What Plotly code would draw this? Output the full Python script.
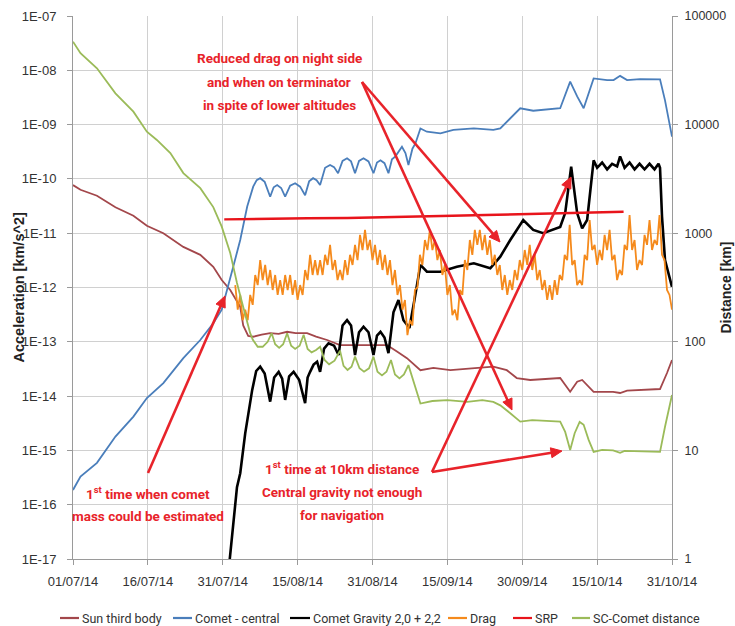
import math
import plotly.graph_objects as go

# ---------------- data (x = days since 01/07/14, ticks every 15 units) ----------------
tick_pos = [0, 15, 30, 45, 60, 75, 90, 105, 120]
tick_dates = ["01/07/14", "16/07/14", "31/07/14", "15/08/14", "31/08/14",
              "15/09/14", "30/09/14", "15/10/14", "31/10/14"]

acc_ticks = [1e-17, 1e-16, 1e-15, 1e-14, 1e-13, 1e-12, 1e-11, 1e-10, 1e-09, 1e-08, 1e-07]
acc_labels = ["1E-17", "1E-16", "1E-15", "1E-14", "1E-13", "1E-12", "1E-11", "1E-10", "1E-09", "1E-08", "1E-07"]
dist_ticks = [1, 10, 100, 1000, 10000, 100000]
dist_labels = ["1", "10", "100", "1000", "10000", "100000"]

sun_day = [0, 1.5, 4.8, 8.5, 12.1, 14.8, 18.1, 22.1, 25.5, 28.1, 29.8, 31.5, 33.5, 34.1, 35.1,
           36.1, 37.8, 39.5, 41.2, 42.9, 44.6, 46.9, 48.7, 50.9, 53.5, 57, 60.2, 62.9, 64.9,
           66.9, 69.6, 72.2, 75.6, 80.2, 84.2, 86.9, 88.9, 91.6, 97.6, 99.6, 101, 102, 104.3,
           108.2, 109.6, 111, 117.6, 119, 120]
sun_val = [7.7e-11, 6.3e-11, 4.9e-11, 3.0e-11, 2.1e-11, 1.37e-11, 1.0e-11, 5.6e-12, 4.0e-12,
           2.4e-12, 1.37e-12, 9.0e-13, 4.4e-13, 2.0e-13, 1.28e-13, 1.24e-13, 1.35e-13, 1.45e-13,
           1.40e-13, 1.53e-13, 1.45e-13, 1.45e-13, 1.25e-13, 1.08e-13, 8.7e-14, 8.7e-14, 8.7e-14,
           8.7e-14, 6.6e-14, 5.0e-14, 3.0e-14, 3.3e-14, 3.0e-14, 3.3e-14, 3.5e-14, 3.0e-14,
           2.15e-14, 1.98e-14, 2.15e-14, 1.2e-14, 1.84e-14, 1.98e-14, 1.2e-14, 1.2e-14, 1.14e-14,
           1.26e-14, 1.35e-14, 2.66e-14, 4.6e-14]

central_day = [0, 1.5, 4.8, 8.5, 12.1, 14.8, 18.1, 22.1, 25.5, 28.1, 29.8, 30.8, 32.1, 33.5,
               34.9, 36.1, 36.8, 37.5, 38.4, 39.5, 40.2, 40.9, 41.7, 42.5, 43.5, 44.5, 45.5, 46.5,
               47.3, 48.1, 48.8, 49.5, 50.5, 51.5, 52.3, 53.1, 54.0, 54.9, 55.7, 56.5, 57.3, 58.2,
               59.2, 60.2, 60.9, 61.6, 62.4, 63.2, 63.9, 64.6, 65.3, 65.9, 66.6, 67.2, 68.0, 68.6,
               69.6, 70.9, 73.6, 76.2, 80.3, 84.2, 85.6, 87.6, 89.6, 92.2, 97.6, 99.6, 101, 102.3,
               104.3, 107, 108.3, 109.6, 111, 113.6, 117.6, 118.6, 120]
central_val = [1.87e-16, 3.3e-16, 5.9e-16, 1.8e-15, 4.2e-15, 9.2e-15, 1.74e-14, 5.0e-14, 1.08e-13,
               2.2e-13, 3.9e-13, 9.0e-13, 2.4e-12, 7.5e-12,
               3.1e-11, 7.2e-11, 9.5e-11, 1.03e-10, 8.8e-11, 4.7e-11, 7.0e-11, 7.7e-11, 6.8e-11, 4.7e-11,
               7.5e-11, 8.3e-11, 7.2e-11, 5.0e-11, 9.0e-11, 1.03e-10, 9.5e-11, 7.7e-11, 1.6e-10, 1.8e-10,
               1.65e-10, 1.27e-10, 2.15e-10, 2.4e-10, 2.1e-10, 1.27e-10, 2.15e-10, 2.4e-10, 2.1e-10,
               1.27e-10, 2.0e-10, 2.2e-10, 1.95e-10, 1.27e-10, 2.3e-10, 2.6e-10, 3.3e-10, 3.9e-10,
               3.0e-10, 1.8e-10, 3.6e-10, 4.5e-10,
               8.5e-10, 7.4e-10, 6.9e-10, 8.0e-10, 8.5e-10, 8.0e-10, 8.5e-10, 1.3e-09, 2.0e-09,
               1.8e-09, 2.0e-09, 6.2e-09, 3.3e-09, 2.0e-09, 7.1e-09, 6.6e-09, 6.6e-09, 7.9e-09,
               6.6e-09, 6.9e-09, 6.8e-09, 2.8e-09, 6.0e-10]

grav_day = [31.3, 32.85, 33.5, 34.5, 35.9, 36.7, 37.5, 38.4, 39.5, 40.3, 41.2, 41.9, 42.5, 43.3,
            44.2, 45.3, 46.5, 47.0, 47.5, 48.2, 48.9, 49.5, 50.3, 51.2, 52.3, 53.2, 54.0, 54.9,
            55.7, 56.5, 57.3, 58.2, 59.2, 60.2, 60.9, 61.6, 62.4, 63.2, 64.2, 65.2, 66.2, 67.4,
            68.4, 69.6, 70.9, 73.6, 76.9, 80.3, 83.6, 85.6, 87.6, 90.2, 92.2, 94.2, 97.6, 98.6,
            99.8, 101, 102, 103, 104.3, 105, 106, 107, 108, 109, 109.6, 110.5, 111.5, 112.5, 113.5,
            114.5, 115.5, 116.5, 117.3, 117.6, 118, 118.6, 120]
grav_val = [8e-18, 2.1e-16, 3.8e-16, 2.06e-15, 1.3e-14, 2.9e-14, 3.5e-14, 2.6e-14, 7.9e-15, 2.2e-14,
            2.8e-14, 2.1e-14, 8.5e-15, 2.3e-14, 2.8e-14, 2.0e-14, 7.4e-15, 2.2e-14, 2.8e-14, 3.8e-14,
            4.3e-14, 2.8e-14, 7.5e-14, 9.4e-14, 8.5e-14, 5.7e-14, 2.0e-13, 2.5e-13, 2.0e-13, 5.7e-14,
            1.5e-13, 1.9e-13, 1.5e-13, 5.7e-14, 1.3e-13, 1.53e-13, 1.2e-13, 6.2e-14, 3.5e-13, 5.9e-13,
            2.5e-13, 1.8e-13, 5.9e-13, 2.6e-12, 1.95e-12, 1.95e-12, 2.4e-12, 2.8e-12, 2.26e-12,
            3.7e-12, 7.5e-12, 1.75e-11, 1.15e-11, 1.0e-11, 1.3e-11, 2.35e-11, 1.68e-10, 2.35e-11,
            1.23e-11, 1.75e-11, 2.2e-10, 1.6e-10, 2.0e-10, 1.5e-10, 1.9e-10, 1.7e-10, 2.6e-10,
            1.6e-10, 2.0e-10, 1.5e-10, 1.9e-10, 1.5e-10, 1.9e-10, 1.5e-10, 1.9e-10, 1.6e-10,
            2.0e-11, 3.2e-12, 1.03e-12]

# Drag sampled every half day from day 32.5
drag_start = 32.5
drag_val = [1.11e-12, 3.9e-13, 7.3e-13, 2.5e-13, 3.9e-13, 2.5e-13, 7.3e-13, 4.8e-13, 1.70e-12, 1.11e-12,
            3.2e-12, 1.37e-12, 2.6e-12, 1.11e-12, 2.1e-12, 9.0e-13, 1.70e-12, 7.3e-13, 1.37e-12, 7.3e-13,
            1.70e-12, 9.0e-13, 1.70e-12, 7.3e-13, 1.37e-12, 5.9e-13, 1.11e-12, 7.3e-13, 2.1e-12, 1.37e-12,
            4.0e-12, 1.70e-12, 3.2e-12, 1.70e-12, 3.2e-12, 1.70e-12, 4.0e-12, 2.6e-12, 6.1e-12, 2.1e-12,
            3.2e-12, 1.37e-12, 2.1e-12, 1.37e-12, 3.2e-12, 1.70e-12, 4.0e-12, 2.6e-12, 6.1e-12, 3.2e-12,
            9.3e-12, 4.9e-12, 1.15e-11, 4.9e-12, 7.5e-12, 3.2e-12, 6.1e-12, 2.6e-12, 4.9e-12, 2.1e-12,
            4.0e-12, 1.70e-12, 3.2e-12, 1.11e-12, 2.1e-12, 7.3e-13, 1.11e-12, 3.9e-13, 5.9e-13, 1.33e-13,
            2.5e-13, 2.0e-13, 9.0e-13, 1.0e-12, 4.0e-12, 2.6e-12, 7.5e-12, 4.9e-12, 1.15e-11, 4.9e-12,
            7.5e-12, 3.2e-12, 4.9e-12, 1.70e-12, 2.6e-12, 7.3e-13, 1.11e-12, 3.1e-13, 3.9e-13, 2.5e-13,
            9.0e-13, 7.3e-13, 3.2e-12, 2.1e-12, 7.5e-12, 4.0e-12, 1.15e-11, 6.1e-12, 1.15e-11, 4.9e-12,
            9.3e-12, 4.0e-12, 7.5e-12, 2.6e-12, 4.0e-12, 1.70e-12, 2.6e-12, 9.0e-13, 1.70e-12, 7.3e-13,
            1.37e-12, 9.0e-13, 2.1e-12, 1.37e-12, 3.2e-12, 2.1e-12, 4.9e-12, 2.6e-12, 6.1e-12, 2.1e-12,
            4.0e-12, 1.37e-12, 2.1e-12, 9.0e-13, 1.37e-12, 5.9e-13, 1.11e-12, 5.9e-13, 1.37e-12, 7.3e-13,
            1.70e-12, 1.37e-12, 4.0e-12, 3.2e-12, 1.42e-11, 2.6e-12, 3.2e-12, 1.11e-12, 1.37e-12, 1.11e-12,
            4.0e-12, 3.2e-12, 1.75e-11, 4.9e-12, 6.1e-12, 2.6e-12, 4.9e-12, 3.2e-12, 9.3e-12, 4.9e-12,
            1.15e-11, 3.2e-12, 4.0e-12, 1.37e-12, 2.1e-12, 1.70e-12, 6.1e-12, 4.9e-12, 2.16e-11, 4.9e-12,
            7.5e-12, 2.1e-12, 3.2e-12, 2.6e-12, 9.3e-12, 6.1e-12, 1.75e-11, 4.9e-12, 7.5e-12, 6.1e-12,
            2.16e-11, 4.0e-12, 3.2e-12, 9.0e-13, 7.3e-13, 3.9e-13]
drag_day = [drag_start + 0.5 * i for i in range(len(drag_val))]

srp_day = [30.3, 35, 40, 47, 55, 62, 70, 76, 82.6, 88, 95, 102, 110.3]
srp_val = [1.8e-11, 1.83e-11, 1.86e-11, 1.88e-11, 1.9e-11, 1.98e-11, 2.07e-11, 2.1e-11, 2.16e-11,
           2.2e-11, 2.3e-11, 2.38e-11, 2.49e-11]

dist_day = [0, 1.5, 4.8, 8.5, 12.1, 14.8, 16.8, 19.5, 22.1, 25.5, 28.1, 29.8, 31.5, 32.85, 34.1,
            34.9, 35.5, 36.0, 37.0, 38.0, 39.0, 39.8, 40.5, 41.3, 42.1, 42.9, 43.7, 44.5, 45.4, 46.2,
            47.0, 47.8, 48.7, 49.5, 50.4, 51.3, 52.4, 53.5, 54.2, 55.0, 55.8, 56.5, 57.4, 58.3, 59.3,
            60.2, 61.0, 61.9, 62.8, 63.7, 64.5, 65.4, 66.3, 67.2, 68.5, 69.6, 72, 75, 79, 82, 84.2,
            85.6, 87.6, 89.6, 92, 95, 97.6, 98.6, 99.6, 100.5, 101.5, 102.3, 103.3, 104.3, 106,
            108.2, 109.6, 110.5, 113, 117.6, 118.6, 120]
dist_val = [58000, 45400, 33000, 19400, 13150, 8600, 7220, 5470, 3580, 2600, 1740, 1150, 657, 348,
            209, 149, 120, 105, 90, 90, 100, 120, 95, 88, 95, 120, 92, 86, 92, 116, 86, 80, 84, 90,
            68, 62, 67, 83, 60, 55, 59, 73, 57, 53, 57, 73, 53, 49, 53, 68, 50, 46, 50, 61, 40, 27,
            28.5, 29, 28, 29, 28, 26, 22, 18.4, 19, 18.6, 18.4, 14.8, 10.1, 14.4, 18.3, 17.2, 12.5,
            9.7, 10.1, 10.0, 9.5, 9.9, 9.8, 9.7, 16.5, 32.4]

series_names = ["Sun third body", "Comet - central", "Comet Gravity 2,0 + 2,2", "Drag", "SRP",
                "SC-Comet distance"]
series_colors = ["#A3474B", "#4A7EBB", "#000000", "#F58A1C", "#E8141B", "#9BBB59"]

# ---------------- layout geometry ----------------
W, H = 735, 626
ML, MR, MT, MB = 73, 63, 16, 67
PW, PH = W - ML - MR, H - MT - MB


def px_x(X):
    return (X - ML) / PW


def px_y(Y):
    return (H - MB - Y) / PH


TICKF = "Liberation Sans, Arial, sans-serif"
NOTEF = "Roboto, Liberation Sans, sans-serif"
RED = "#E8232A"
GRID = "#D0D0D0"
AXC = "#9A9A9A"

fig = go.Figure()
widths = [1.8, 1.8, 2.6, 1.8, 2.4, 1.8]
xs = [sun_day, central_day, grav_day, drag_day, srp_day, dist_day]
ys = [sun_val, central_val, grav_val, drag_val, srp_val, dist_val]
for i in range(6):
    fig.add_trace(go.Scatter(
        x=xs[i], y=ys[i], mode="lines", name=series_names[i],
        line=dict(color=series_colors[i], width=widths[i]),
        yaxis="y2" if i == 5 else "y", showlegend=False))

fig.update_layout(
    width=W, height=H, margin=dict(l=ML, r=MR, t=MT, b=MB, autoexpand=False),
    paper_bgcolor="white", plot_bgcolor="white",
    font=dict(family=TICKF, size=13, color="#333333"),
    xaxis=dict(range=[0, 120], tickvals=tick_pos, ticktext=tick_dates, showgrid=True,
               gridcolor=GRID, gridwidth=1, showline=True, linecolor=AXC, ticks="outside",
               ticklen=5, tickcolor=AXC, zeroline=False, tickfont=dict(size=13),
               automargin=False, ticklabelstandoff=5),
    yaxis=dict(type="log", range=[-17, -7], tickvals=acc_ticks, ticktext=acc_labels,
               showgrid=True, gridcolor=GRID, gridwidth=1, showline=True, linecolor=AXC,
               ticks="outside", ticklen=5, tickcolor=AXC, zeroline=False, tickfont=dict(size=13),
               automargin=False, ticklabelstandoff=8),
    yaxis2=dict(type="log", range=[0, 5], tickvals=dist_ticks, ticktext=dist_labels,
                overlaying="y", side="right", showgrid=False, showline=True, linecolor=AXC,
                ticks="outside", ticklen=5, tickcolor=AXC, zeroline=False,
                tickfont=dict(size=12.5), automargin=False, ticklabelstandoff=4),
    showlegend=False,
)

ann = []
shapes = []
# axis titles
ann.append(dict(x=px_x(18), y=0.5, xref="paper", yref="paper", text="<b>Acceleration [km/s^2]</b>",
                textangle=-90, showarrow=False, xanchor="center", yanchor="middle",
                font=dict(family=TICKF, size=14.5, color="#222222")))
ann.append(dict(x=px_x(725), y=0.5, xref="paper", yref="paper", text="<b>Distance [km]</b>",
                textangle=-90, showarrow=False, xanchor="center", yanchor="middle",
                font=dict(family=TICKF, size=14, color="#222222")))

# text blocks
note_font = dict(family=NOTEF, size=13.5, color=RED)
blocks = [
    (279, [58, 82, 105], ["<b>Reduced drag on night side</b>", "<b>and when on terminator</b>",
                          "<b>in spite of lower altitudes</b>"]),
    (148, [493, 516], ["<b>1<sup>st</sup> time when comet</b>", "<b>mass could be estimated</b>"]),
    (342, [468, 492, 515], ["<b>1<sup>st</sup> time at 10km distance</b>", "<b>Central gravity not enough</b>",
                            "<b>for navigation</b>"]),
]
for cx, ylist, texts in blocks:
    for yy, t in zip(ylist, texts):
        ann.append(dict(x=px_x(cx), y=px_y(yy), xref="paper", yref="paper", text=t,
                        showarrow=False, font=note_font, xanchor="center", yanchor="middle"))

# arrows: (tail X, tail Y, head X, head Y) in pixels, drawn as line + filled head
arrows = [(362, 82, 500, 242), (362, 82, 512, 410), (148, 473, 225, 296),
          (432, 472, 571, 177), (432, 472, 562, 451)]
HEAD_L, HEAD_W = 11, 5
for tx, ty, hx, hy in arrows:
    dx, dy = hx - tx, hy - ty
    L = math.hypot(dx, dy)
    ux, uy = dx / L, dy / L
    bx, by = hx - ux * HEAD_L, hy - uy * HEAD_L
    px, py = -uy, ux
    shapes.append(dict(type="line", xref="paper", yref="paper", x0=px_x(tx), y0=px_y(ty),
                       x1=px_x(bx + ux * 2), y1=px_y(by + uy * 2), line=dict(color=RED, width=2.6)))
    path = "M {:.5f} {:.5f} L {:.5f} {:.5f} L {:.5f} {:.5f} Z".format(
        px_x(hx), px_y(hy), px_x(bx + px * HEAD_W), px_y(by + py * HEAD_W),
        px_x(bx - px * HEAD_W), px_y(by - py * HEAD_W))
    shapes.append(dict(type="path", xref="paper", yref="paper", path=path,
                       fillcolor=RED, line=dict(color=RED, width=1)))

# custom legend
leg_y = 618
leg_items = [(60, 79), (173, 192), (290, 310), (448, 467), (513, 532), (572, 590)]
for (x1, x2), name, col in zip(leg_items, series_names, series_colors):
    shapes.append(dict(type="line", xref="paper", yref="paper", x0=px_x(x1), x1=px_x(x2),
                       y0=px_y(leg_y), y1=px_y(leg_y), line=dict(color=col, width=2.2)))
    ann.append(dict(x=px_x(x2 + 1), y=px_y(leg_y), xref="paper", yref="paper", text=name,
                    showarrow=False, xanchor="left", yanchor="middle",
                    font=dict(family=NOTEF, size=12.5, color="#333333")))

fig.update_layout(annotations=ann, shapes=shapes)
fig.write_html("out.html", config={"displayModeBar": False},
               post_script="document.body.style.margin='0';document.body.style.overflow='hidden';")
